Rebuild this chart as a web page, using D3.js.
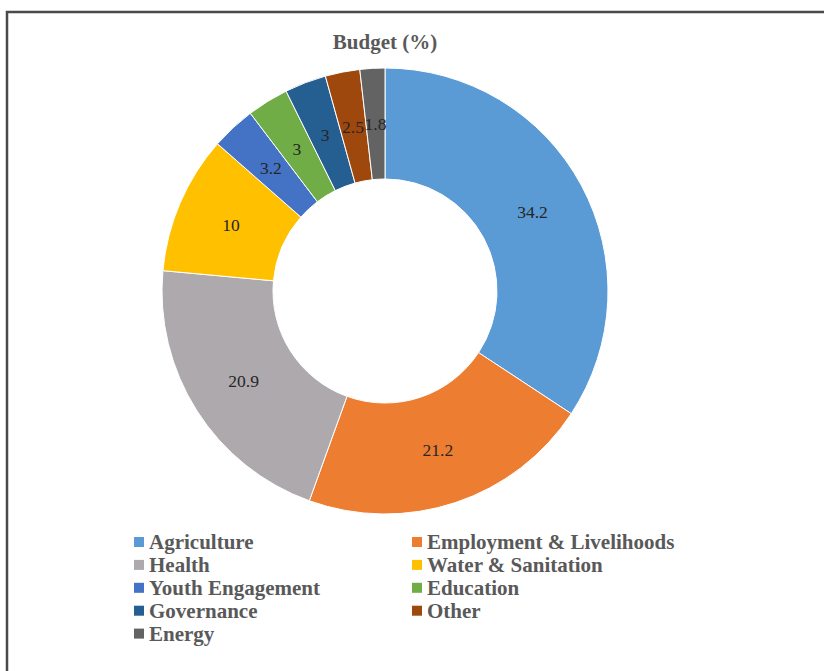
<!DOCTYPE html>
<html>
<head>
<meta charset="utf-8">
<script src="https://cdn.jsdelivr.net/npm/d3@7"></script>
<style>
  html, body { margin: 0; padding: 0; background: #fff; }
  svg { display: block; }
</style>
</head>
<body>
<script>
// Budget shares by sector (%)
const categories = ["Agriculture", "Employment & Livelihoods", "Health", "Water & Sanitation",
  "Youth Engagement", "Education", "Governance", "Other", "Energy"];
const values = [34.2, 21.2, 20.9, 10, 3.2, 3, 3, 2.5, 1.8];
const colors = ["#5B9BD5", "#ED7D31", "#ADA9AC", "#FFC000", "#4472C4",
  "#70AD47", "#255E91", "#9E480E", "#636363"];
const title = "Budget (%)";

const W = 824, H = 671;
const cx = 385, cy = 291, outerR = 223, innerR = 112;

const svg = d3.select("body").append("svg")
  .attr("width", W).attr("height", H);

// chart frame (top and left edges)
svg.append("path")
  .attr("d", `M7,${H} L7,12 L${W},12`)
  .attr("fill", "none")
  .attr("stroke", "#4a4a4a")
  .attr("stroke-width", 2.5);

svg.append("text")
  .attr("x", cx).attr("y", 49)
  .attr("text-anchor", "middle")
  .attr("font-family", "'Liberation Serif', 'Times New Roman', serif")
  .attr("font-weight", "bold")
  .attr("font-size", 21)
  .attr("fill", "#595959")
  .text(title);

const data = categories.map((c, i) => ({ name: c, value: values[i], color: colors[i] }));

const pie = d3.pie().value(d => d.value).sort(null);
const arc = d3.arc().innerRadius(innerR).outerRadius(outerR);

const g = svg.append("g").attr("transform", `translate(${cx},${cy})`);
const arcs = pie(data);

g.selectAll("path.slice")
  .data(arcs)
  .join("path")
  .attr("class", "slice")
  .attr("d", arc)
  .attr("fill", d => d.data.color)
  .attr("stroke", "#fff")
  .attr("stroke-width", 1);

g.selectAll("text.val")
  .data(arcs)
  .join("text")
  .attr("class", "val")
  .attr("transform", d => `translate(${arc.centroid(d)})`)
  .attr("text-anchor", "middle")
  .attr("dy", "0.35em")
  .attr("font-family", "'Liberation Serif', 'Times New Roman', serif")
  .attr("font-size", 17.5)
  .attr("fill", "#262626")
  .text(d => d.data.value);

// legend, two columns
const legend = svg.append("g");
const colX = [134, 412], rowY0 = 542, rowH = 22.9;
const items = legend.selectAll("g.item")
  .data(data)
  .join("g")
  .attr("class", "item")
  .attr("transform", (d, i) => `translate(${colX[i % 2]},${rowY0 + Math.floor(i / 2) * rowH})`);

items.append("rect")
  .attr("x", 0).attr("y", -5)
  .attr("width", 10).attr("height", 10)
  .attr("fill", d => d.color);

items.append("text")
  .attr("x", 15).attr("y", 0)
  .attr("dy", "0.33em")
  .attr("font-family", "'Liberation Serif', 'Times New Roman', serif")
  .attr("font-weight", "bold")
  .attr("font-size", 21)
  .attr("fill", "#595959")
  .text(d => d.name);
</script>
</body>
</html>
